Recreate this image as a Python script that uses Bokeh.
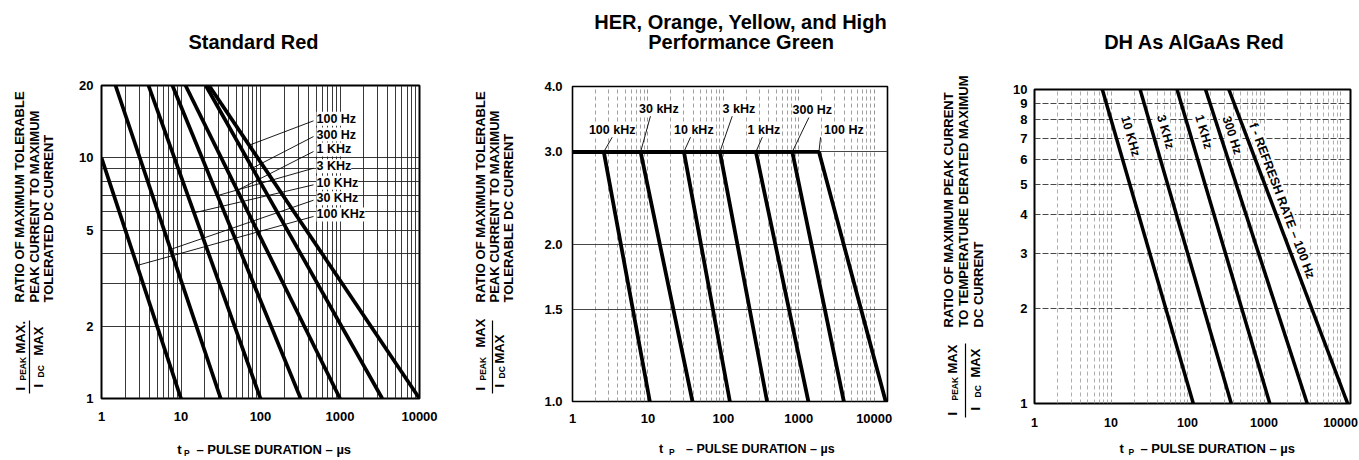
import math
from bokeh.plotting import figure
from bokeh.models import FixedTicker, PrintfTickFormatter, Label, Range1d
from bokeh.core.properties import value
from bokeh.layouts import row, column
from bokeh.embed import file_html
from bokeh.resources import INLINE

FONT = "Liberation Sans"
PAGE_BOTTOM = 459

# ---------------- Standard Red ----------------
sr_freq = ["100 KHz", "30 KHz", "10 KHz", "3 KHz", "1 KHz", "300 Hz", "100 Hz"]
sr_tp_top = [1.0, 1.5, 3.9, 7.8, 11.4, 20.5, 22.5]
sr_ratio_top = [10.0, 20.0, 20.0, 20.0, 20.0, 20.0, 20.0]
sr_tp_bottom = [10.0, 31.6, 100.0, 320.0, 1000.0, 3400.0, 10000.0]
sr_ratio_bottom = [1.0, 1.0, 1.0, 1.0, 1.0, 1.0, 1.0]
# callouts: where each leader touches its curve, and the row of its label
sr_callout_tp = [2.8, 7.4, 14.6, 28.8, 51.0, 79.0, 72.0]
sr_label_ratio = [5.82, 6.80, 7.88, 9.24, 10.84, 12.51, 14.54]
sr_leader_ratio = [5.71, 6.67, 7.73, 9.06, 10.63, 12.27, 14.26]
sr_label_tp = 506.0
sr_leader_tp = 464.0
sr_x_ticks = [1, 10, 100, 1000, 10000]
sr_y_ticks = [1, 2, 5, 10, 20]
sr_y_minor = [3, 4, 6, 7, 8, 9]

# ---------------- HER / Orange / Yellow / HP Green ----------------
her_freq = ["100 kHz", "30 kHz", "10 kHz", "3 kHz", "1 kHz", "300 Hz", "100 Hz"]
her_tp_knee = [2.6, 8.0, 30.0, 90.0, 270.0, 820.0, 1850.0]
her_ratio_knee = 3.0
her_tp_end = [10.6, 39.0, 122.0, 380.0, 1340.0, 3960.0, 14200.0]
her_ratio_end = 1.0
her_label_tp = [3.36, 13.95, 40.6, 160.6, 344.0, 1510.0, 3965.0]
her_label_ratio = [3.31, 3.63, 3.31, 3.63, 3.31, 3.61, 3.31]
her_leader_tp = [3.36, 10.8, 36.7, 131.0, 328.0, 1361.0, 1945.0]
her_leader_ratio = [3.20, 3.51, 3.20, 3.51, 3.20, 3.49, 3.20]
her_x_ticks = [1, 10, 100, 1000, 10000]
her_y_ticks = [1.0, 1.5, 2.0, 3.0, 4.0]

# ---------------- DH AlGaAs Red ----------------
dh_freq = ["10 KHz", "3 KHz", "1 KHz", "300 Hz", "f - REFRESH RATE \u2013 100 Hz"]
dh_tp_top = [7.7, 24.0, 73.0, 172.0, 347.0]
dh_ratio_top = 10.0
dh_tp_bottom = [119.0, 373.0, 1190.0, 3670.0, 12400.0]
dh_ratio_bottom = 1.0
dh_label_tp = [18.0, 51.6, 163.0, 384.0, 1718.0]
dh_label_ratio = [7.1, 7.33, 7.33, 7.15, 4.42]
dh_x_ticks = [1, 10, 100, 1000, 10000]
dh_y_ticks = [1, 2, 3, 4, 5, 6, 7, 8, 9, 10]

# ---------------- texts around the charts ----------------
titles = [["Standard Red"], ["HER, Orange, Yellow, and High", "Performance Green"], ["DH As AlGaAs Red"]]
ylabels = [["RATIO OF MAXIMUM TOLERABLE", "PEAK CURRENT TO MAXIMUM", "TOLERATED DC CURRENT"],
           ["RATIO OF MAXIMUM TOLERABLE", "PEAK CURRENT TO MAXIMUM", "TOLERABLE DC CURRENT"],
           ["RATIO OF MAXIMUM PEAK CURRENT", "TO TEMPERATURE DERATED MAXIMUM", "DC CURRENT"]]
frac_num = [("I", "PEAK", "MAX."), ("I", "PEAK", "MAX"), ("I", "PEAK", "MAX")]
frac_den = [("I", "DC", "MAX"), ("I", "DC", "MAX"), ("I", "DC", "MAX")]
xtitle_parts = ("t", "P", "\u2013 PULSE DURATION \u2013 \u00b5s")


def log_interp(tp, x0, y0, x1, y1):
    lx0, lx1 = math.log10(x0), math.log10(x1)
    ly0, ly1 = math.log10(y0), math.log10(y1)
    t = (math.log10(tp) - lx0) / (lx1 - lx0)
    return 10 ** (ly0 + t * (ly1 - ly0))


def decade_minors(e_hi):
    return [k * 10 ** e for e in range(0, e_hi + 1) for k in range(2, 10)]


def make_fig(x_end, y_rng, fw, fh, bl, br, bt, bb, outline_w, tick_size="13px"):
    p = figure(x_axis_type="log", y_axis_type="log", x_range=(1, x_end), y_range=y_rng,
               frame_width=fw, frame_height=fh, min_border_left=bl, min_border_right=br,
               min_border_top=bt, min_border_bottom=bb, output_backend="svg",
               toolbar_location=None, title=None)
    p.background_fill_color = "white"
    p.border_fill_color = "white"
    p.outline_line_color = "black"
    p.outline_line_width = outline_w
    for ax in (p.xaxis[0], p.yaxis[0]):
        ax.axis_line_color = None
        ax.major_tick_line_color = None
        ax.minor_tick_line_color = None
        ax.major_tick_out = 0
        ax.major_tick_in = 0
        ax.major_label_text_font = FONT
        ax.major_label_text_font_style = "bold"
        ax.major_label_text_font_size = tick_size
        ax.major_label_text_color = "black"
    return p


def blank_fig(x0, x1, y_top, y_bot):
    # helper canvas whose data coordinates are page pixels (y grows downward)
    f = figure(width=int(x1 - x0), height=int(y_bot - y_top),
               x_range=Range1d(x0, x1), y_range=Range1d(y_bot, y_top),
               x_axis_location=None, y_axis_location=None, toolbar_location=None,
               min_border=0, output_backend="svg", title=None)
    f.outline_line_color = None
    f.background_fill_color = "white"
    f.border_fill_color = "white"
    for g in f.grid:
        g.visible = False
    return f


def txt(f, x, y, text, size, angle=0.0, align="left"):
    f.text(x=[x], y=[y], text=[text], angle=angle, text_align=align, text_baseline="middle",
           text_font=value(FONT), text_font_size=value(size), text_font_style="bold",
           text_color="black")


def set_ticks(p, xt, xm, yt, ym, yfmt, xstand, ystand):
    tx = FixedTicker(ticks=xt, minor_ticks=xm)
    ty = FixedTicker(ticks=yt, minor_ticks=ym)
    p.xaxis.ticker = tx
    p.xgrid.ticker = tx
    p.yaxis.ticker = ty
    p.ygrid.ticker = ty
    p.xaxis.formatter = PrintfTickFormatter(format="%d")
    p.yaxis.formatter = PrintfTickFormatter(format=yfmt)
    p.xaxis.major_label_standoff = xstand
    p.yaxis.major_label_standoff = ystand


def dlabel(p, x, y, text, size, angle=0.0, align="left"):
    p.add_layout(Label(x=x, y=y, text=text, angle=angle, text_align=align,
                       text_baseline="middle", text_font=FONT, text_font_size=size,
                       text_font_style="bold", text_color="black",
                       background_fill_color="white"))


def label_panel(i, x0, x1, line_x, line_y, num_pos, den_pos, bar):
    f = blank_fig(x0, x1, 0, PAGE_BOTTOM)
    up = math.pi / 2
    for t, x in zip(ylabels[i], line_x):
        txt(f, x, line_y, t, "13px", angle=up)
    sizes = ("13px", "8.5px", "13px")
    for part, (x, y), s in zip(frac_num[i], num_pos, sizes):
        txt(f, x, y, part, s, angle=up)
    for part, (x, y), s in zip(frac_den[i], den_pos, sizes):
        txt(f, x, y, part, s, angle=up)
    bx, by0, by1 = bar
    f.segment(x0=[bx], y0=[by0], x1=[bx], y1=[by1], line_color="black", line_width=1.2)
    return f


def title_panel(i, x0, x1, y_bot, centers):
    f = blank_fig(x0, x1, 0, y_bot)
    for t, (x, y) in zip(titles[i], centers):
        txt(f, x, y, t, "20px", align="center")
    return f


def xtitle_panel(x0, x1, y_top, xs, y, size):
    f = blank_fig(x0, x1, y_top, PAGE_BOTTOM)
    txt(f, xs[0], y, xtitle_parts[0], size)
    txt(f, xs[1], y + 3.5, xtitle_parts[1], "8.5px")
    txt(f, xs[2], y, xtitle_parts[2], size)
    return f


# ======== Panel 1 ========
p1 = make_fig(10000, (1, 20), 318, 313, 26, 41, 6, 30, 2)
set_ticks(p1, sr_x_ticks, decade_minors(3), sr_y_ticks, sr_y_minor, "%d", 9, 4)
for g in (p1.xgrid[0], p1.ygrid[0]):
    g.grid_line_color = "#222222"
    g.grid_line_width = 0.9
    g.minor_grid_line_color = "#222222"
    g.minor_grid_line_width = 0.9

p1.multi_line([[a, b] for a, b in zip(sr_tp_top, sr_tp_bottom)],
              [[a, b] for a, b in zip(sr_ratio_top, sr_ratio_bottom)],
              line_color="black", line_width=3.7)
lead_y = [log_interp(t, x0, y0, x1, y1) for t, x0, y0, x1, y1 in
          zip(sr_callout_tp, sr_tp_top, sr_ratio_top, sr_tp_bottom, sr_ratio_bottom)]
p1.segment(x0=[sr_leader_tp] * len(sr_freq), y0=sr_leader_ratio, x1=sr_callout_tp, y1=lead_y,
           line_color="black", line_width=0.9)
for f_, yv in zip(sr_freq, sr_label_ratio):
    dlabel(p1, sr_label_tp, yv, f_, "12.5px")

lab1 = label_panel(0, 0, 75, [18.5, 34, 47.5], 302,
                   [(20, 390), (22.5, 380), (20, 353)],
                   [(38, 387), (40.5, 377), (38, 355)], (29, 320, 393))
tit1 = title_panel(0, 75, 460, 79, [(259, 41)])
xt1 = xtitle_panel(75, 460, 428, [166.7, 175, 190], 449, "13px")

# ======== Panel 2 ========
p2 = make_fig(15000, (1, 4), 315, 315, 32, 23, 6, 29, 1.6)
set_ticks(p2, her_x_ticks, decade_minors(4), her_y_ticks, [], "%.1f", 8, 10)
p2.xgrid.grid_line_color = "#777777"
p2.xgrid.grid_line_dash = "4 3"
p2.xgrid.grid_line_width = 0.8
p2.xgrid.minor_grid_line_color = "#888888"
p2.xgrid.minor_grid_line_dash = "4 3"
p2.xgrid.minor_grid_line_width = 0.8
p2.ygrid.grid_line_color = "#333333"
p2.ygrid.grid_line_width = 0.9

p2.multi_line([[1, k, e] for k, e in zip(her_tp_knee, her_tp_end)],
              [[her_ratio_knee, her_ratio_knee, her_ratio_end] for _ in her_tp_knee],
              line_color="black", line_width=3.8)
p2.segment(x0=her_leader_tp, y0=her_leader_ratio, x1=her_tp_knee,
           y1=[her_ratio_knee] * len(her_tp_knee), line_color="black", line_width=0.9)
for f_, xv, yv in zip(her_freq, her_label_tp, her_label_ratio):
    dlabel(p2, xv, yv, f_, "12.5px", align="center")

lab2 = label_panel(1, 460, 540, [480, 494, 508], 302,
                   [(480, 390), (482.5, 380), (480, 347)],
                   [(499, 387), (501.5, 378), (499, 363)], (492, 320, 393))
tit2 = title_panel(1, 540, 910, 80, [(737.5, 21), (738, 41)])
xt2 = xtitle_panel(540, 910, 430, [641.7, 653.3, 673.3], 448, "12.5px")

# ======== Panel 3 ========
FW3, FH3, XEND3 = 316, 314, 13500
p3 = make_fig(XEND3, (1, 10), FW3, FH3, 29, 8, 6, 29, 2, tick_size="12.5px")
set_ticks(p3, dh_x_ticks, decade_minors(4), dh_y_ticks, [], "%d", 10, 7)
p3.yaxis.major_label_text_font_size = "13px"
p3.xgrid.grid_line_color = "#888888"
p3.xgrid.grid_line_dash = "4 3"
p3.xgrid.grid_line_width = 0.8
p3.xgrid.minor_grid_line_color = "#999999"
p3.xgrid.minor_grid_line_dash = "4 3"
p3.xgrid.minor_grid_line_width = 0.8
p3.ygrid.grid_line_color = "#333333"
p3.ygrid.grid_line_dash = "6 2"
p3.ygrid.grid_line_width = 0.9

p3.multi_line([[a, b] for a, b in zip(dh_tp_top, dh_tp_bottom)],
              [[dh_ratio_top, dh_ratio_bottom] for _ in dh_tp_top],
              line_color="black", line_width=3.5)
px_dec_x = FW3 / math.log10(XEND3)
px_dec_y = FH3 / math.log10(10)
for f_, a, b, xv, yv in zip(dh_freq, dh_tp_top, dh_tp_bottom, dh_label_tp, dh_label_ratio):
    dx = (math.log10(b) - math.log10(a)) * px_dec_x
    dy = (math.log10(dh_ratio_bottom) - math.log10(dh_ratio_top)) * px_dec_y
    dlabel(p3, xv, yv, f_, "12.5px", angle=math.atan2(dy, dx), align="center")

lab3 = label_panel(2, 910, 1005, [948, 963, 978], 327,
                   [(952, 415), (954.5, 400), (952, 373)],
                   [(975, 410), (977.5, 397), (975, 377)], (965, 343, 417))
tit3 = title_panel(2, 1005, 1358, 83, [(1184, 41)])
xt3 = xtitle_panel(1005, 1358, 432, [1100, 1110, 1123.3], 448, "13px")

layout = row(row(lab1, column(tit1, p1, xt1)),
             row(lab2, column(tit2, p2, xt2)),
             row(lab3, column(tit3, p3, xt3)))
open("out.html", "w").write(file_html(layout, INLINE))
